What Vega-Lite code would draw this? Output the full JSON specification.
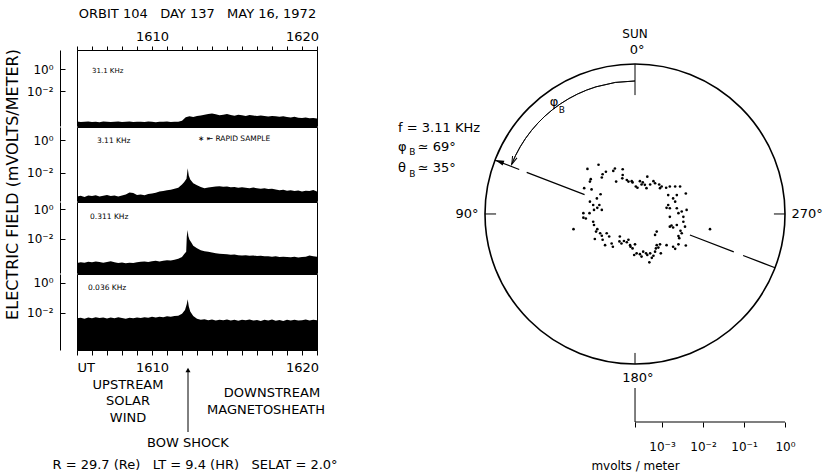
{
  "$schema": "https://vega.github.io/schema/vega-lite/v6.json",
  "padding": {"left": 3, "top": 6, "right": 0, "bottom": 0},
  "background": "white",
  "config": {
    "font": "DejaVu Sans",
    "view": {"stroke": "black", "strokeWidth": 1},
    "axis": {"domainColor": "black", "tickColor": "black", "labelColor": "black", "titleColor": "black", "labelFont": "DejaVu Sans", "titleFont": "DejaVu Sans", "titleFontWeight": "normal", "grid": false, "labelOverlap": false, "labelBound": false},
    "text": {"font": "DejaVu Sans", "color": "black"}
  },
  "datasets": {
    "e31_1": [
      {"t":5,"logE":-4.78},{"t":5.25,"logE":-4.82},{"t":5.5,"logE":-4.8},{"t":5.75,"logE":-4.77},{"t":6,"logE":-4.81},{"t":6.25,"logE":-4.79},{"t":6.5,"logE":-4.83},{"t":6.75,"logE":-4.78},{"t":7,"logE":-4.8},{"t":7.25,"logE":-4.82},{"t":7.5,"logE":-4.79},{"t":7.75,"logE":-4.77},{"t":8,"logE":-4.81},{"t":8.25,"logE":-4.8},{"t":8.5,"logE":-4.78},{"t":8.75,"logE":-4.82},{"t":9,"logE":-4.8},{"t":9.25,"logE":-4.79},{"t":9.5,"logE":-4.81},{"t":9.75,"logE":-4.78},{"t":10,"logE":-4.8},{"t":10.25,"logE":-4.83},{"t":10.5,"logE":-4.79},{"t":10.75,"logE":-4.8},{"t":11,"logE":-4.78},{"t":11.25,"logE":-4.81},{"t":11.5,"logE":-4.8},{"t":11.75,"logE":-4.79},
      {"t":12,"logE":-4.7},{"t":12.25,"logE":-4.38},{"t":12.5,"logE":-4.3},{"t":12.75,"logE":-4.36},{"t":13,"logE":-4.28},{"t":13.25,"logE":-4.22},{"t":13.5,"logE":-4.15},{"t":13.75,"logE":-4.08},{"t":14,"logE":-4.05},{"t":14.25,"logE":-4.12},{"t":14.5,"logE":-4.2},{"t":14.75,"logE":-4.15},{"t":15,"logE":-4.1},{"t":15.25,"logE":-4.18},{"t":15.5,"logE":-4.25},{"t":15.75,"logE":-4.16},{"t":16,"logE":-4.2},{"t":16.25,"logE":-4.26},{"t":16.5,"logE":-4.18},{"t":16.75,"logE":-4.22},{"t":17,"logE":-4.28},{"t":17.25,"logE":-4.22},{"t":17.5,"logE":-4.27},{"t":17.75,"logE":-4.32},{"t":18,"logE":-4.26},{"t":18.25,"logE":-4.3},{"t":18.5,"logE":-4.35},{"t":18.75,"logE":-4.3},{"t":19,"logE":-4.36},{"t":19.25,"logE":-4.4},{"t":19.5,"logE":-4.35},{"t":19.75,"logE":-4.42},{"t":20,"logE":-4.45},{"t":20.25,"logE":-4.4},{"t":20.5,"logE":-4.48},{"t":20.75,"logE":-4.45},{"t":21,"logE":-4.5}
    ],
    "e3_11": [
      {"t":5,"logE":-3.42},{"t":5.25,"logE":-3.38},{"t":5.5,"logE":-3.45},{"t":5.75,"logE":-3.36},{"t":6,"logE":-3.4},{"t":6.25,"logE":-3.35},{"t":6.5,"logE":-3.42},{"t":6.75,"logE":-3.38},{"t":7,"logE":-3.33},{"t":7.25,"logE":-3.4},{"t":7.5,"logE":-3.37},{"t":7.75,"logE":-3.42},{"t":8,"logE":-3.36},{"t":8.25,"logE":-3.3},{"t":8.5,"logE":-3.18},{"t":8.75,"logE":-3.22},{"t":9,"logE":-3.33},{"t":9.25,"logE":-3.3},{"t":9.5,"logE":-3.35},{"t":9.75,"logE":-3.28},{"t":10,"logE":-3.25},{"t":10.25,"logE":-3.2},{"t":10.5,"logE":-3.13},{"t":10.75,"logE":-3.1},{"t":11,"logE":-3.05},{"t":11.25,"logE":-3.02},{"t":11.5,"logE":-2.96},{"t":11.75,"logE":-2.9},
      {"t":12,"logE":-2.7},{"t":12.15,"logE":-2.55},{"t":12.3,"logE":-2.35},{"t":12.38,"logE":-1.72},{"t":12.45,"logE":-2.15},{"t":12.55,"logE":-2.4},{"t":12.75,"logE":-2.62},{"t":13,"logE":-2.75},{"t":13.25,"logE":-2.85},{"t":13.5,"logE":-2.92},{"t":13.75,"logE":-2.88},{"t":14,"logE":-2.85},{"t":14.25,"logE":-2.82},{"t":14.5,"logE":-2.8},{"t":14.75,"logE":-2.84},{"t":15,"logE":-2.82},{"t":15.25,"logE":-2.87},{"t":15.5,"logE":-2.85},{"t":15.75,"logE":-2.9},{"t":16,"logE":-2.86},{"t":16.25,"logE":-2.9},{"t":16.5,"logE":-2.92},{"t":16.75,"logE":-2.88},{"t":17,"logE":-2.93},{"t":17.25,"logE":-2.96},{"t":17.5,"logE":-2.92},{"t":17.75,"logE":-2.97},{"t":18,"logE":-2.95},{"t":18.25,"logE":-3.0},{"t":18.5,"logE":-3.05},{"t":18.75,"logE":-3.02},{"t":19,"logE":-3.08},{"t":19.25,"logE":-3.05},{"t":19.5,"logE":-3.1},{"t":19.75,"logE":-3.06},{"t":20,"logE":-3.12},{"t":20.25,"logE":-3.08},{"t":20.5,"logE":-3.1},{"t":20.75,"logE":-3.04},{"t":21,"logE":-3.12}
    ],
    "e0_311": [
      {"t":5,"logE":-3.6},{"t":5.25,"logE":-3.55},{"t":5.5,"logE":-3.58},{"t":5.75,"logE":-3.52},{"t":6,"logE":-3.56},{"t":6.25,"logE":-3.5},{"t":6.5,"logE":-3.54},{"t":6.75,"logE":-3.58},{"t":7,"logE":-3.53},{"t":7.25,"logE":-3.49},{"t":7.5,"logE":-3.55},{"t":7.75,"logE":-3.6},{"t":8,"logE":-3.57},{"t":8.25,"logE":-3.62},{"t":8.5,"logE":-3.58},{"t":8.75,"logE":-3.6},{"t":9,"logE":-3.55},{"t":9.25,"logE":-3.52},{"t":9.5,"logE":-3.5},{"t":9.75,"logE":-3.54},{"t":10,"logE":-3.49},{"t":10.25,"logE":-3.46},{"t":10.5,"logE":-3.5},{"t":10.75,"logE":-3.45},{"t":11,"logE":-3.42},{"t":11.25,"logE":-3.44},{"t":11.5,"logE":-3.38},{"t":11.75,"logE":-3.32},
      {"t":12,"logE":-3.2},{"t":12.15,"logE":-3.0},{"t":12.28,"logE":-2.85},{"t":12.32,"logE":-1.82},{"t":12.38,"logE":-1.4},{"t":12.42,"logE":-1.8},{"t":12.5,"logE":-2.05},{"t":12.6,"logE":-2.2},{"t":12.75,"logE":-2.45},{"t":13,"logE":-2.62},{"t":13.25,"logE":-2.75},{"t":13.5,"logE":-2.82},{"t":13.75,"logE":-2.85},{"t":14,"logE":-2.9},{"t":14.25,"logE":-2.95},{"t":14.5,"logE":-2.98},{"t":14.75,"logE":-3.0},{"t":15,"logE":-3.02},{"t":15.25,"logE":-3.05},{"t":15.5,"logE":-3.04},{"t":15.75,"logE":-3.08},{"t":16,"logE":-3.1},{"t":16.25,"logE":-3.08},{"t":16.5,"logE":-3.12},{"t":16.75,"logE":-3.1},{"t":17,"logE":-3.14},{"t":17.25,"logE":-3.12},{"t":17.5,"logE":-3.16},{"t":17.75,"logE":-3.15},{"t":18,"logE":-3.18},{"t":18.25,"logE":-3.16},{"t":18.5,"logE":-3.2},{"t":18.75,"logE":-3.18},{"t":19,"logE":-3.2},{"t":19.25,"logE":-3.22},{"t":19.5,"logE":-3.19},{"t":19.75,"logE":-3.23},{"t":20,"logE":-3.21},{"t":20.25,"logE":-3.18},{"t":20.5,"logE":-3.1},{"t":20.75,"logE":-3.15},{"t":21,"logE":-3.18}
    ],
    "e0_036": [
      {"t":5,"logE":-2.36},{"t":5.25,"logE":-2.32},{"t":5.5,"logE":-2.38},{"t":5.75,"logE":-2.3},{"t":6,"logE":-2.35},{"t":6.25,"logE":-2.28},{"t":6.5,"logE":-2.34},{"t":6.75,"logE":-2.3},{"t":7,"logE":-2.37},{"t":7.25,"logE":-2.31},{"t":7.5,"logE":-2.35},{"t":7.75,"logE":-2.29},{"t":8,"logE":-2.33},{"t":8.25,"logE":-2.38},{"t":8.5,"logE":-2.32},{"t":8.75,"logE":-2.36},{"t":9,"logE":-2.3},{"t":9.25,"logE":-2.34},{"t":9.5,"logE":-2.28},{"t":9.75,"logE":-2.32},{"t":10,"logE":-2.26},{"t":10.25,"logE":-2.3},{"t":10.5,"logE":-2.25},{"t":10.75,"logE":-2.28},{"t":11,"logE":-2.22},{"t":11.25,"logE":-2.26},{"t":11.5,"logE":-2.2},{"t":11.75,"logE":-2.18},
      {"t":12,"logE":-2.05},{"t":12.2,"logE":-1.8},{"t":12.32,"logE":-1.4},{"t":12.38,"logE":-1.08},{"t":12.45,"logE":-1.55},{"t":12.55,"logE":-1.9},{"t":12.75,"logE":-2.2},{"t":13,"logE":-2.38},{"t":13.25,"logE":-2.45},{"t":13.5,"logE":-2.42},{"t":13.75,"logE":-2.48},{"t":14,"logE":-2.44},{"t":14.25,"logE":-2.5},{"t":14.5,"logE":-2.45},{"t":14.75,"logE":-2.49},{"t":15,"logE":-2.43},{"t":15.25,"logE":-2.5},{"t":15.5,"logE":-2.46},{"t":15.75,"logE":-2.52},{"t":16,"logE":-2.45},{"t":16.25,"logE":-2.49},{"t":16.5,"logE":-2.44},{"t":16.75,"logE":-2.51},{"t":17,"logE":-2.47},{"t":17.25,"logE":-2.53},{"t":17.5,"logE":-2.46},{"t":17.75,"logE":-2.5},{"t":18,"logE":-2.44},{"t":18.25,"logE":-2.52},{"t":18.5,"logE":-2.47},{"t":18.75,"logE":-2.53},{"t":19,"logE":-2.46},{"t":19.25,"logE":-2.5},{"t":19.5,"logE":-2.45},{"t":19.75,"logE":-2.51},{"t":20,"logE":-2.48},{"t":20.25,"logE":-2.43},{"t":20.5,"logE":-2.5},{"t":20.75,"logE":-2.46},{"t":21,"logE":-2.49}
    ],
    "scatter": [
      {"x":-0.89,"y":1.2},{"x":-1.16,"y":1.1},{"x":-0.49,"y":1.11},{"x":-0.53,"y":1.05},{"x":-0.71,"y":1.03},{"x":-0.79,"y":0.97},{"x":-0.3,"y":1.09},{"x":-0.3,"y":0.95},{"x":-1.08,"y":0.85},{"x":-1.1,"y":0.79},{"x":-0.81,"y":0.89},{"x":0.3,"y":0.91},{"x":-0.31,"y":0.87},{"x":-0.46,"y":0.79},{"x":-0.2,"y":0.83},{"x":-0.16,"y":0.79},{"x":-0.08,"y":0.8},{"x":-0.06,"y":0.77},{"x":0.12,"y":0.8},{"x":0.19,"y":0.77},{"x":0.16,"y":0.72},{"x":0.02,"y":0.67},{"x":0.06,"y":0.64},{"x":0.24,"y":0.71},{"x":0.28,"y":0.63},{"x":0.37,"y":0.72},{"x":0.45,"y":0.8},{"x":0.49,"y":0.75},{"x":0.59,"y":0.72},{"x":0.65,"y":0.67},{"x":0.61,"y":0.63},{"x":0.76,"y":0.64},{"x":0.85,"y":0.67},{"x":0.98,"y":0.67},{"x":1.1,"y":0.67},{"x":0.81,"y":0.46},{"x":1.02,"y":0.46},{"x":1.24,"y":0.5},{"x":-1.24,"y":0.63},{"x":-1.06,"y":0.6},{"x":-0.84,"y":0.48},{"x":-0.93,"y":0.38},{"x":-1.1,"y":0.3},{"x":-1.02,"y":0.22},{"x":-0.87,"y":0.22},{"x":-0.92,"y":0.15},{"x":-0.81,"y":0.1},{"x":-1.0,"y":0.1},{"x":-1.11,"y":0.02},{"x":-1.26,"y":0.02},{"x":-1.2,"y":-0.11},{"x":-1.26,"y":-0.09},{"x":-1.02,"y":-0.19},{"x":-1.0,"y":-0.27},{"x":-0.92,"y":-0.37},{"x":-0.95,"y":-0.43},{"x":-0.85,"y":-0.47},{"x":-0.81,"y":-0.53},{"x":-0.69,"y":-0.47},{"x":-0.63,"y":-0.55},{"x":-0.79,"y":-0.63},{"x":-0.98,"y":-0.61},{"x":-0.73,"y":-0.76},{"x":-0.57,"y":-0.72},{"x":-0.54,"y":-0.8},{"x":-1.5,"y":-0.37},{"x":-0.37,"y":-0.55},{"x":-0.38,"y":-0.67},{"x":-0.33,"y":-0.72},{"x":-0.27,"y":-0.66},{"x":-0.2,"y":-0.69},{"x":-0.12,"y":-0.76},{"x":0.0,"y":-0.74},{"x":-0.16,"y":-0.63},{"x":-0.11,"y":-0.8},{"x":-0.06,"y":-0.84},{"x":0.04,"y":-0.96},{"x":-0.02,"y":-1.0},{"x":0.12,"y":-0.98},{"x":0.2,"y":-0.92},{"x":0.16,"y":-1.04},{"x":0.27,"y":-0.96},{"x":0.3,"y":-1.0},{"x":0.37,"y":-0.96},{"x":0.41,"y":-1.07},{"x":0.35,"y":-1.18},{"x":0.45,"y":-1.02},{"x":0.49,"y":-0.92},{"x":0.51,"y":-0.84},{"x":0.53,"y":-0.76},{"x":0.61,"y":-0.74},{"x":0.63,"y":-0.96},{"x":0.57,"y":-0.82},{"x":0.49,"y":-0.51},{"x":0.53,"y":-0.43},{"x":0.77,"y":-0.76},{"x":0.93,"y":-0.8},{"x":0.98,"y":-0.85},{"x":1.06,"y":-0.74},{"x":1.08,"y":-0.59},{"x":1.06,"y":-0.54},{"x":1.14,"y":-0.47},{"x":1.11,"y":-0.41},{"x":1.24,"y":-0.77},{"x":0.85,"y":-0.31},{"x":0.89,"y":-0.28},{"x":0.93,"y":-0.33},{"x":1.02,"y":-0.27},{"x":1.18,"y":-0.19},{"x":1.22,"y":-0.31},{"x":1.18,"y":-0.07},{"x":1.14,"y":0.06},{"x":1.06,"y":0.02},{"x":1.02,"y":0.14},{"x":0.98,"y":0.3},{"x":1.26,"y":0.1},{"x":0.85,"y":-0.07},{"x":0.77,"y":0.15},{"x":0.85,"y":0.14},{"x":0.93,"y":0.38},{"x":1.83,"y":-0.37},{"x":0.81,"y":0.22}
    ]
  },
  "bounds": "flush",
  "spacing": 408,
  "hconcat": [
    {
      "bounds": "flush",
      "spacing": 1,
      "vconcat": [
        {
          "width": 240, "height": 76,
          "resolve": {"axis": {"x": "independent"}},
          "layer": [
            {
              "data": {"name": "e31_1"},
              "mark": {"type": "area", "color": "black", "interpolate": "linear"},
              "encoding": {
                "x": {"field": "t", "type": "quantitative", "scale": {"domain": [5, 21], "nice": false, "zero": false},
                  "axis": {"orient": "top", "values": [5,6,7,8,9,10,11,12,13,14,15,16,17,18,19,20,21], "labels": false, "tickSize": 4, "title": null}},
                "y": {"field": "logE", "type": "quantitative", "scale": {"domain": [-5.18, 1.73], "nice": false, "zero": false},
                  "axis": {"orient": "left", "offset": 17, "values": [0, -2], "labelExpr": "datum.value==0?'10⁰':'10⁻²'", "tickSize": -5, "labelPadding": 12, "labelFontSize": 12, "title": null}},
                "y2": {"datum": -5.18}
              }
            },
            {
              "data": {"values": [{"label": "31.1 KHz", "t": 6.0, "logE": -0.18}]},
              "mark": {"type": "text", "align": "left", "baseline": "middle", "fontSize": 7},
              "encoding": {
                "x": {"field": "t", "type": "quantitative", "axis": {"orient": "top", "values": [10, 20], "labelExpr": "datum.value==10?'1610':'1620'", "ticks": false, "domain": false, "labelPadding": 7, "labelFontSize": 13, "labelFlush": false, "title": "ORBIT 104\u00a0\u00a0\u00a0DAY 137\u00a0\u00a0\u00a0MAY 16, 1972", "titleFontSize": 13, "titlePadding": 10, "titleLimit": 1000}},
                "y": {"field": "logE", "type": "quantitative"},
                "text": {"field": "label"}
              }
            }
          ]
        },
        {
          "width": 240, "height": 74,
          "layer": [
            {
              "data": {"name": "e3_11"},
              "mark": {"type": "area", "color": "black", "interpolate": "linear"},
              "encoding": {
                "x": {"field": "t", "type": "quantitative", "scale": {"domain": [5, 21], "nice": false, "zero": false}, "axis": null},
                "y": {"field": "logE", "type": "quantitative", "scale": {"domain": [-3.7, 0.79], "nice": false, "zero": false},
                  "axis": {"orient": "left", "offset": 17, "values": [0, -2], "labelExpr": "datum.value==0?'10⁰':'10⁻²'", "tickSize": -5, "labelPadding": 12, "labelFontSize": 12,
                    "title": "ELECTRIC FIELD (mVOLTS/METER)", "titleX": -48, "titleY": 57, "titleAngle": -90, "titleBaseline": "middle", "titleAlign": "center", "titleFontSize": 16, "titleLimit": 1000}},
                "y2": {"datum": -3.7}
              }
            },
            {
              "data": {"values": [{"label": "3.11 KHz", "t": 6.33, "logE": -0.06}, {"label": "∗ ⇤  RAPID SAMPLE", "t": 13.07, "logE": 0.06}]},
              "mark": {"type": "text", "align": "left", "baseline": "middle", "fontSize": 7.5},
              "encoding": {"x": {"field": "t", "type": "quantitative"}, "y": {"field": "logE", "type": "quantitative"}, "text": {"field": "label"}}
            }
          ]
        },
        {
          "width": 240, "height": 71,
          "layer": [
            {
              "data": {"name": "e0_311"},
              "mark": {"type": "area", "color": "black", "interpolate": "linear"},
              "encoding": {
                "x": {"field": "t", "type": "quantitative", "scale": {"domain": [5, 21], "nice": false, "zero": false}, "axis": null},
                "y": {"field": "logE", "type": "quantitative", "scale": {"domain": [-4.27, 0.47], "nice": false, "zero": false},
                  "axis": {"orient": "left", "offset": 17, "values": [0, -2], "labelExpr": "datum.value==0?'10⁰':'10⁻²'", "tickSize": -5, "labelPadding": 12, "labelFontSize": 12, "title": null}},
                "y2": {"datum": -4.27}
              }
            },
            {
              "data": {"values": [{"label": "0.311 KHz", "t": 5.87, "logE": -0.53}]},
              "mark": {"type": "text", "align": "left", "baseline": "middle", "fontSize": 7.5},
              "encoding": {"x": {"field": "t", "type": "quantitative"}, "y": {"field": "logE", "type": "quantitative"}, "text": {"field": "label"}}
            }
          ]
        },
        {
          "width": 240, "height": 76,
          "resolve": {"axis": {"x": "independent"}},
          "layer": [
            {
              "data": {"name": "e0_036"},
              "mark": {"type": "area", "color": "black", "interpolate": "linear"},
              "encoding": {
                "x": {"field": "t", "type": "quantitative", "scale": {"domain": [5, 21], "nice": false, "zero": false},
                  "axis": {"orient": "bottom", "values": [5,6,7,8,9,10,11,12,13,14,15,16,17,18,19,20,21], "labels": false, "tickSize": 5, "title": null}},
                "y": {"field": "logE", "type": "quantitative", "scale": {"domain": [-4.47, 0.6], "nice": false, "zero": false},
                  "axis": {"orient": "left", "offset": 17, "values": [0, -2], "labelExpr": "datum.value==0?'10⁰':'10⁻²'", "tickSize": -5, "labelPadding": 12, "labelFontSize": 12, "title": null}},
                "y2": {"datum": -4.47}
              }
            },
            {
              "data": {"values": [{"label": "0.036 KHz", "t": 5.73, "logE": -0.33}]},
              "mark": {"type": "text", "align": "left", "baseline": "middle", "fontSize": 7.5},
              "encoding": {
                "x": {"field": "t", "type": "quantitative", "axis": {"orient": "bottom", "values": [5, 10, 20], "labelExpr": "datum.value==5?'UT':datum.value==10?'1610':'1620'", "ticks": false, "domain": false, "labelPadding": 11, "labelFontSize": 13, "labelFlush": true, "title": null}},
                "y": {"field": "logE", "type": "quantitative"},
                "text": {"field": "label"}
              }
            }
          ]
        },
        {
          "width": 240, "height": 124,
          "view": {"stroke": null},
          "encoding": {
            "x": {"field": "t", "type": "quantitative", "scale": {"domain": [5, 21], "nice": false, "zero": false}, "axis": null},
            "y": {"field": "row", "type": "quantitative", "scale": {"domain": [0, 7.5], "reverse": true, "nice": false, "zero": false}, "axis": null}
          },
          "layer": [
            {
              "data": {"values": [
                {"label": "UPSTREAM", "t": 8.4, "row": 2.06},
                {"label": "SOLAR", "t": 8.4, "row": 3.03},
                {"label": "WIND", "t": 8.4, "row": 4.05},
                {"label": "DOWNSTREAM", "t": 18.0, "row": 2.54},
                {"label": "MAGNETOSHEATH", "t": 17.6, "row": 3.57},
                {"label": "BOW SHOCK", "t": 12.4, "row": 5.57},
                {"label": "R = 29.7 (Re)\u00a0\u00a0\u00a0LT = 9.4 (HR)\u00a0\u00a0\u00a0SELAT = 2.0°", "t": 12.87, "row": 6.9}
              ]},
              "mark": {"type": "text", "align": "center", "baseline": "middle", "fontSize": 13},
              "encoding": {"text": {"field": "label"}}
            },
            {
              "data": {"values": [{"t": 12.4, "row": 4.9, "row2": 1.2}]},
              "mark": {"type": "rule", "color": "black", "strokeWidth": 1},
              "encoding": {"y2": {"field": "row2"}}
            },
            {
              "data": {"values": [{"t": 12.4, "row": 1.15}]},
              "mark": {"type": "point", "shape": "triangle-up", "filled": true, "color": "black", "opacity": 1, "size": 25}
            }
          ]
        }
      ]
    },
    {
      "bounds": "flush",
      "spacing": 8,
      "vconcat": [
        {
          "width": 300, "height": 330,
          "view": {"stroke": null},
          "encoding": {
            "x": {"field": "x", "type": "quantitative", "scale": {"domain": [-3.66, 3.66], "nice": false, "zero": false}, "axis": null},
            "y": {"field": "y", "type": "quantitative", "scale": {"domain": [-4.05, 4.0], "nice": false, "zero": false}, "axis": null}
          },
          "layer": [
            {
              "data": {"values": [{"x": 0, "y": 0}]},
              "mark": {"type": "point", "shape": "circle", "size": 90000, "filled": false, "stroke": "black", "strokeWidth": 1.6, "opacity": 1}
            },
            {
              "data": {"values": [
                {"x": 0, "y": 3.66, "x2": 0, "y2": 2.9},
                {"x": 0, "y": -3.66, "x2": 0, "y2": -3.39},
                {"x": -3.66, "y": 0, "x2": -3.39, "y2": 0},
                {"x": 3.39, "y": 0, "x2": 3.66, "y2": 0}
              ]},
              "mark": {"type": "rule", "color": "black", "strokeWidth": 1},
              "encoding": {"x2": {"field": "x2"}, "y2": {"field": "y2"}}
            },
            {
              "data": {"values": [{"x": -3.417, "y": 1.312, "x2": -1.22, "y2": 0.468}]},
              "mark": {"type": "rule", "color": "black", "strokeWidth": 1.2, "strokeDash": [26, 8, 62, 8]},
              "encoding": {"x2": {"field": "x2"}, "y2": {"field": "y2"}}
            },
            {
              "data": {"values": [{"x": 1.34, "y": -0.514, "x2": 3.417, "y2": -1.312}]},
              "mark": {"type": "rule", "color": "black", "strokeWidth": 1.2, "strokeDash": [47, 10, 40, 10]},
              "encoding": {"x2": {"field": "x2"}, "y2": {"field": "y2"}}
            },
            {
              "data": {"values": [{"x": 0, "y": 0}]},
              "mark": {"type": "arc", "radius": 133, "radius2": 133, "theta": -1.19, "theta2": 0, "fill": null, "stroke": "black", "strokeWidth": 0.9}
            },
            {
              "data": {"values": [{"x": -2.97, "y": 1.3}]},
              "mark": {"type": "point", "shape": "M -0.6 1 L 0 -1 L 0.6 1", "angle": 202, "size": 64, "filled": false, "stroke": "black", "strokeWidth": 1, "opacity": 1}
            },
            {
              "data": {"values": [{"x": -3.31, "y": 1.28}]},
              "mark": {"type": "point", "shape": "M 0 -1 L 0.55 1 L -0.55 1 Z", "angle": 291, "size": 80, "filled": true, "color": "black", "opacity": 1}
            },
            {
              "data": {"name": "scatter"},
              "mark": {"type": "point", "shape": "circle", "filled": true, "color": "black", "size": 7, "opacity": 1}
            },
            {
              "data": {"values": [{"label": "SUN", "x": 0, "y": 4.39}]},
              "mark": {"type": "text", "align": "center", "baseline": "middle", "fontSize": 12},
              "encoding": {"text": {"field": "label"}}
            },
            {
              "data": {"values": [
                {"label": "0°", "x": 0.05, "y": 4.0},
                {"label": "90°", "x": -4.1, "y": 0},
                {"label": "180°", "x": 0.07, "y": -4.0},
                {"label": "270°", "x": 4.2, "y": 0}
              ]},
              "mark": {"type": "text", "align": "center", "baseline": "middle", "fontSize": 13},
              "encoding": {"text": {"field": "label"}}
            },
            {
              "data": {"values": [
                {"label": "f = 3.11 KHz", "x": -5.78, "y": 2.1},
                {"label": "φ", "x": -5.78, "y": 1.63},
                {"label": "≃ 69°", "x": -5.3, "y": 1.63},
                {"label": "θ", "x": -5.78, "y": 1.12},
                {"label": "≃ 35°", "x": -5.3, "y": 1.12},
                {"label": "φ", "x": -2.08, "y": 2.73}
              ]},
              "mark": {"type": "text", "align": "left", "baseline": "middle", "fontSize": 13},
              "encoding": {"text": {"field": "label"}}
            },
            {
              "data": {"values": [
                {"label": "B", "x": -5.51, "y": 1.5},
                {"label": "B", "x": -5.51, "y": 0.97},
                {"label": "B", "x": -1.86, "y": 2.54}
              ]},
              "mark": {"type": "text", "align": "left", "baseline": "middle", "fontSize": 9},
              "encoding": {"text": {"field": "label"}}
            }
          ]
        },
        {
          "width": 300, "height": 34,
          "view": {"stroke": null},
          "layer": [
            {
              "data": {"values": [{"from": 0.000219, "to": 1}]},
              "mark": {"type": "rule", "color": "black", "strokeWidth": 1.2},
              "encoding": {
                "x": {"field": "from", "type": "quantitative", "scale": {"type": "log", "domain": [4.786e-8, 1], "nice": false},
                  "axis": {"orient": "bottom", "domain": false, "values": [0.000219, 0.001, 0.01, 0.1, 1], "labelExpr": "datum.value==1?'10⁰':datum.value==0.1?'10⁻¹':datum.value==0.01?'10⁻²':datum.value==0.001?'10⁻³':''", "tickSize": 5, "labelPadding": 14, "labelFontSize": 12, "labelFlush": false, "title": "mvolts / meter", "titleFontSize": 12, "titlePadding": 8}},
                "x2": {"field": "to"},
                "y": {"datum": 0, "type": "quantitative", "scale": {"domain": [0, 1], "nice": false, "zero": false}, "axis": null}
              }
            },
            {
              "data": {"values": [{"from": 0.000219}]},
              "mark": {"type": "rule", "color": "black", "strokeWidth": 1},
              "encoding": {
                "x": {"field": "from", "type": "quantitative"},
                "y": {"datum": 0, "type": "quantitative"},
                "y2": {"datum": 1}
              }
            }
          ]
        }
      ]
    }
  ]
}
